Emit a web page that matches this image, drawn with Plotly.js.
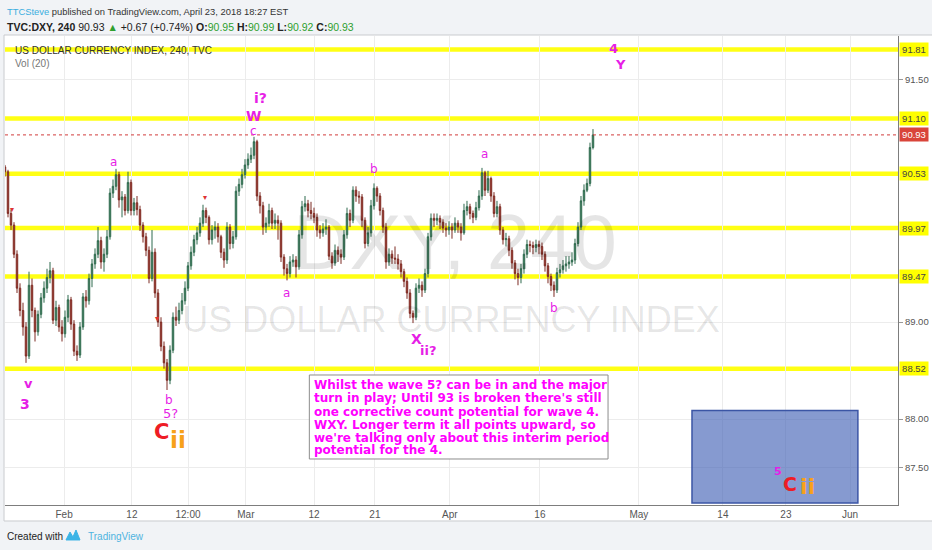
<!DOCTYPE html>
<html>
<head>
<meta charset="utf-8">
<script src="https://cdn.plot.ly/plotly-3.0.1.min.js"></script>
<style>
html,body{margin:0;padding:0;background:#f1f3f6;}
#chart{width:932px;height:550px;}
</style>
</head>
<body>
<div id="chart"></div>
<script>
// ---- data (4h DXY, sampled candles) ----
const firstOpen = 90.60;
const closes = [
90.55,90.12,90.00,89.70,89.35,89.12,88.95,88.65,89.38,89.12,
88.90,89.08,89.25,89.35,89.46,89.53,89.02,89.15,88.95,88.88,
89.05,89.23,88.98,88.70,88.66,88.95,89.26,89.22,89.45,89.60,
89.70,89.84,89.62,89.70,89.88,90.33,90.40,90.52,90.26,90.29,
90.15,90.44,90.15,90.23,90.16,90.00,89.88,89.74,89.45,89.72,
89.30,89.00,88.75,88.58,88.40,88.71,89.05,89.02,89.12,89.22,
89.35,89.58,89.72,89.85,89.92,90.02,90.15,90.08,89.85,89.95,
89.98,89.88,89.72,89.64,89.98,89.81,89.88,90.35,90.42,90.52,
90.62,90.68,90.72,90.86,90.30,90.20,89.98,90.02,90.15,90.02,
90.05,90.02,89.67,89.55,89.50,89.62,89.64,89.57,89.90,90.19,
90.22,90.15,90.12,90.08,89.95,89.92,89.96,89.98,89.68,89.61,
89.74,89.70,89.67,89.90,90.12,90.05,90.36,90.30,90.29,90.05,
89.81,89.92,90.20,90.38,90.30,90.15,89.98,89.62,89.70,89.66,
89.65,89.60,89.52,89.42,89.30,89.09,89.05,89.35,89.38,89.33,
89.50,89.88,90.07,90.05,90.07,90.03,89.97,89.95,89.98,89.95,
90.02,89.98,89.92,90.15,90.19,90.12,90.08,90.18,90.30,90.54,
90.36,90.48,90.30,90.12,90.19,89.95,89.85,89.86,89.74,89.61,
89.50,89.46,89.55,89.70,89.80,89.79,89.77,89.80,89.78,89.70,
89.58,89.47,89.38,89.33,89.51,89.54,89.58,89.60,89.62,89.64,
89.81,89.98,90.25,90.36,90.43,90.80,90.93];
const highs = [
90.62,90.57,90.16,90.03,89.74,89.40,89.20,89.00,89.52,89.45,
89.15,89.12,89.30,89.42,89.55,89.62,89.56,89.22,89.18,89.02,
89.12,89.28,89.26,89.02,88.76,89.00,89.30,89.33,89.50,89.65,
89.76,89.98,89.88,89.76,89.95,90.38,90.47,90.58,90.55,90.35,
90.32,90.55,90.47,90.28,90.30,90.20,90.03,89.92,89.78,89.95,
89.76,89.34,89.05,88.80,88.62,88.76,89.10,89.16,89.20,89.30,
89.42,89.62,89.78,89.90,89.98,90.08,90.21,90.18,90.10,90.00,
90.04,90.02,89.90,89.76,90.03,90.01,89.94,90.40,90.48,90.58,
90.68,90.74,90.80,90.91,90.88,90.34,90.24,90.08,90.22,90.18,
90.12,90.10,90.05,89.70,89.60,89.68,89.70,89.68,89.95,90.25,
90.30,90.26,90.24,90.18,90.12,90.00,90.02,90.06,90.00,89.72,
89.80,89.78,89.75,89.95,90.18,90.16,90.40,90.40,90.35,90.32,
90.08,89.98,90.26,90.43,90.40,90.33,90.18,90.02,89.76,89.74,
89.78,89.70,89.64,89.55,89.46,89.34,89.12,89.40,89.45,89.42,
89.55,89.92,90.12,90.12,90.12,90.10,90.06,90.02,90.04,90.02,
90.08,90.05,90.02,90.22,90.25,90.22,90.15,90.24,90.36,90.59,
90.56,90.56,90.50,90.34,90.25,90.22,89.98,89.92,89.89,89.77,
89.64,89.55,89.60,89.75,89.85,89.84,89.83,89.85,89.84,89.82,
89.73,89.61,89.50,89.42,89.56,89.60,89.64,89.68,89.68,89.72,
89.86,90.03,90.30,90.42,90.48,90.85,90.99];
const lows = [
90.50,90.08,89.95,89.66,89.30,89.06,88.86,88.58,88.62,89.05,
88.80,88.86,89.04,89.20,89.30,89.40,88.98,88.96,88.90,88.80,
88.84,89.00,88.92,88.65,88.60,88.63,88.92,89.15,89.18,89.36,
89.55,89.66,89.55,89.52,89.66,89.85,90.28,90.36,90.18,90.08,
90.10,90.12,90.10,90.10,90.10,89.94,89.82,89.68,89.40,89.42,
89.25,88.95,88.70,88.52,88.30,88.36,88.68,88.96,88.98,89.08,
89.18,89.32,89.54,89.68,89.80,89.88,89.98,90.02,89.80,89.80,
89.86,89.82,89.66,89.56,89.60,89.75,89.76,89.85,90.30,90.38,
90.48,90.58,90.64,90.68,90.25,90.12,89.90,89.92,89.98,89.96,
89.96,89.85,89.62,89.48,89.43,89.46,89.57,89.46,89.54,89.86,
90.14,90.08,90.06,90.02,89.88,89.86,89.88,89.90,89.64,89.55,
89.58,89.62,89.60,89.64,89.86,89.98,90.02,90.24,90.22,89.98,
89.76,89.78,89.88,90.16,90.24,90.10,89.92,89.55,89.58,89.60,
89.60,89.54,89.46,89.36,89.24,89.04,88.99,89.02,89.30,89.26,
89.30,89.46,89.84,89.98,90.00,89.96,89.92,89.88,89.90,89.86,
89.92,89.92,89.84,89.90,90.10,90.06,90.02,90.05,90.15,90.26,
90.30,90.33,90.24,90.08,90.08,89.90,89.80,89.78,89.68,89.55,
89.44,89.38,89.40,89.50,89.66,89.72,89.70,89.72,89.70,89.64,
89.52,89.40,89.32,89.26,89.30,89.46,89.50,89.52,89.55,89.58,
89.60,89.78,89.95,90.20,90.34,90.40,90.78];

// horizontal levels drawn on the chart
const levels = [91.81, 91.10, 90.53, 89.97, 89.47, 88.52];
const lastPrice = 90.93;

// price axis ticks shown (others lie under the level labels)
const priceTicks = [87.5, 88.0, 89.0, 91.5];

// x axis ticks (candle index) and labels
const tickPos = [19.7, 42.3, 61, 80.3, 103, 123.3, 148.3, 178.3, 211.3, 239.3, 260.3, 281.7];
const tickLabels = ['Feb','12','12:00','Mar','12','21','Apr','16','May','14','23','Jun'];

// ---- build ----
const opens = [firstOpen].concat(closes.slice(0, -1));
const idx = closes.map((_, i) => i);

const FONT = 'Liberation Sans, Arial, sans-serif';
const MAG = '#e61ee6';
const RED = '#ee1c25';
const ORG = '#f7a11a';

const traces = [
  {type:'scatter', mode:'text', x:[150], y:[89.75], text:['DXY, 240'],
   textfont:{family:FONT, size:78, color:'rgba(0,0,0,0.10)'}, hoverinfo:'skip', showlegend:false},
  {type:'scatter', mode:'text', x:[148.7], y:[88.99], text:['US DOLLAR CURRENCY INDEX'],
   textfont:{family:FONT, size:36, color:'rgba(0,0,0,0.10)'}, hoverinfo:'skip', showlegend:false},
  {type:'candlestick', x:idx, open:opens, high:highs, low:lows, close:closes,
   increasing:{line:{color:'#2f6a4e', width:1}, fillcolor:'#4a8e6b'},
   decreasing:{line:{color:'#7c2a22', width:1}, fillcolor:'#b5463a'},
   whiskerwidth:0, hoverinfo:'skip', showlegend:false}
];

const shapes = [];
// pane background
shapes.push({type:'rect', xref:'paper', yref:'paper', x0:-0.0011, x1:1.0395, y0:-0.0341, y1:1.0021,
  fillcolor:'#ffffff', line:{color:'#c9cbcf', width:1}, layer:'below'});
levels.forEach(v => shapes.push({type:'line', xref:'paper', x0:0, x1:1, yref:'y', y0:v, y1:v,
  line:{color:'rgba(255,255,0,0.92)', width:4.5}, layer:'between'}));
shapes.push({type:'line', xref:'paper', x0:0, x1:1, yref:'y', y0:lastPrice, y1:lastPrice,
  line:{color:'#d23c3c', width:1, dash:'dot'}, layer:'above'});
// blue target box
shapes.push({type:'rect', xref:'x', yref:'y', x0:229, x1:284.3, y0:87.135, y1:88.09,
  fillcolor:'rgba(63,95,181,0.63)', line:{color:'#3b55a5', width:1.5}, layer:'above'});
// comment box
shapes.push({type:'rect', xref:'paper', yref:'paper', x0:0.3408, x1:0.6753, y0:0.0981, y1:0.2772,
  fillcolor:'#ffffff', line:{color:'#8c8c8c', width:1}, layer:'above'});
// tradingview logo
shapes.push({type:'path', xref:'paper', yref:'paper',
  path:'M 0.0683 -0.0746 L 0.0728 -0.0576 L 0.0761 -0.0682 L 0.0795 -0.0533 L 0.0840 -0.0746 Z',
  fillcolor:'#3cb4e6', line:{color:'#3cb4e6', width:1}});

const ann = [];
// price labels on the right axis
levels.forEach(v => ann.push({xref:'paper', x:1.0011, xanchor:'left', yref:'y', y:v, text:v.toFixed(2),
  showarrow:false, bgcolor:'#ffff00', width:26, align:'center', borderpad:1,
  font:{family:FONT, size:9.5, color:'#444'}}));
ann.push({xref:'paper', x:1.0011, xanchor:'left', yref:'y', y:lastPrice, text:lastPrice.toFixed(2),
  showarrow:false, bgcolor:'#d9443a', width:26, align:'center', borderpad:1,
  font:{family:FONT, size:9.5, color:'#ffffff'}});

function lab(x, y, t, size, color) {
  ann.push({xref:'x', yref:'y', x:x, y:y, text:t, showarrow:false,
    font:{family:'DejaVu Sans, sans-serif', size:size, color:color}});
}
lab(85.33, 91.31, '<b>i?</b>', 14, MAG);
lab(82.67, 91.125, '<b>W</b>', 14, MAG);
lab(82.77, 90.973, 'c', 12, MAG);
lab(36.33, 90.648, 'a', 12, MAG);
lab(123, 90.575, 'b', 12, MAG);
lab(160, 90.733, 'a', 12, MAG);
lab(93.67, 89.303, 'a', 12, MAG);
lab(7.77, 88.362, '<b>v</b>', 13, MAG);
lab(6.67, 88.156, '<b>3</b>', 14, MAG);
lab(54.67, 88.197, 'b', 12, MAG);
lab(55.23, 88.063, '5?', 13, MAG);
lab(52.23, 87.867, '<b>C</b>', 21, RED);
lab(57.77, 87.785, '<b>ii</b>', 23, ORG);
lab(137, 88.823, '<b>X</b>', 14, MAG);
lab(141.1, 88.712, '<b>ii?</b>', 13, MAG);
lab(183, 89.142, 'b', 12, MAG);
lab(203, 91.816, '<b>4</b>', 13, MAG);
lab(205.33, 91.651, '<b>Y</b>', 13, MAG);
lab(257.6, 87.46, '<b>5</b>', 11, MAG);
lab(261.6, 87.335, '<b>C</b>', 19, RED);
lab(267.43, 87.303, '<b>ii</b>', 22, ORG);
lab(2.33, 90.156, '▾', 8, '#d33');
lab(66.67, 90.287, '▾', 8, '#d33');
lab(50.77, 89.042, '▾', 8, '#d33');

// comment text lines
const note = [
  "Whilst the wave 5? can be in and the major",
  "turn in play; Until 93 is broken there's still",
  "one corrective count potential for wave 4.",
  "WXY. Longer term it all points upward, so",
  "we're talking only about this interim period",
  "potential for the 4."
];
const noteY = [0.2559, 0.2275, 0.1989, 0.1716, 0.1439, 0.1166];
note.forEach((t, i) => ann.push({xref:'paper', yref:'paper', x:0.3443, y:noteY[i], xanchor:'left', yanchor:'middle',
  text:'<b>' + t + '</b>', showarrow:false, font:{family:'DejaVu Sans, sans-serif', size:12, color:'#ff00ff'}}));

// header
ann.push({xref:'paper', yref:'paper', x:0, y:1.0533, xanchor:'left', yanchor:'middle', showarrow:false,
  text:"<span style='color:#3aaee0'>TTCSteve</span> published on TradingView.com, April 23, 2018 18:27 EST",
  font:{family:FONT, size:9.4, color:'#333'}});
const G = "<span style='color:#2fa02f'>";
ann.push({xref:'paper', yref:'paper', x:0, y:1.0192, xanchor:'left', yanchor:'middle', showarrow:false,
  text:"<b>TVC:DXY, 240</b> 90.93 " + G + "▲</span> +0.67 (+0.74%) <b>O:</b>" + G + "90.95</span> <b>H:</b>" + G +
       "90.99</span> <b>L:</b>" + G + "90.92</span> <b>C:</b>" + G + "90.93</span>",
  font:{family:FONT, size:10.5, color:'#222'}});
ann.push({xref:'paper', yref:'paper', x:0.009, y:0.970, xanchor:'left', yanchor:'middle', showarrow:false,
  text:'US DOLLAR CURRENCY INDEX, 240, TVC', font:{family:FONT, size:10, color:'#333'}});
ann.push({xref:'paper', yref:'paper', x:0.009, y:0.9424, xanchor:'left', yanchor:'middle', showarrow:false,
  text:'Vol (20)', font:{family:FONT, size:10, color:'#777'}});
// footer
ann.push({xref:'paper', yref:'paper', x:0, y:-0.0661, xanchor:'left', yanchor:'middle', showarrow:false,
  text:'Created with', font:{family:FONT, size:10, color:'#222'}});
ann.push({xref:'paper', yref:'paper', x:0.0907, y:-0.0661, xanchor:'left', yanchor:'middle', showarrow:false,
  text:'TradingView', font:{family:FONT, size:10, color:'#4fb3e0'}});

const layout = {
  width:932, height:550,
  margin:{l:5, r:34, t:36, b:45},
  paper_bgcolor:'#f1f3f6', plot_bgcolor:'#ffffff',
  hovermode:false, showlegend:false,
  xaxis:{type:'linear', range:[0, 297.67], tickvals:tickPos, ticktext:tickLabels,
    showgrid:true, gridcolor:'#ececec', gridwidth:1, zeroline:false,
    showline:true, linecolor:'#7d7d7d', linewidth:1, ticks:'',
    tickfont:{family:FONT, size:10, color:'#555'}, rangeslider:{visible:false}, fixedrange:true},
  yaxis:{side:'right', range:[87.1145, 91.9496], tickvals:priceTicks, tickformat:'.2f',
    showgrid:true, gridcolor:'#ececec', gridwidth:1, zeroline:false,
    showline:true, linecolor:'#7d7d7d', linewidth:1, ticks:'outside', ticklen:4, tickcolor:'#999',
    tickfont:{family:FONT, size:9.5, color:'#555'}, fixedrange:true},
  shapes:shapes, annotations:ann
};

Plotly.newPlot('chart', traces, layout, {staticPlot:true, displayModeBar:false});
</script>
</body>
</html>
